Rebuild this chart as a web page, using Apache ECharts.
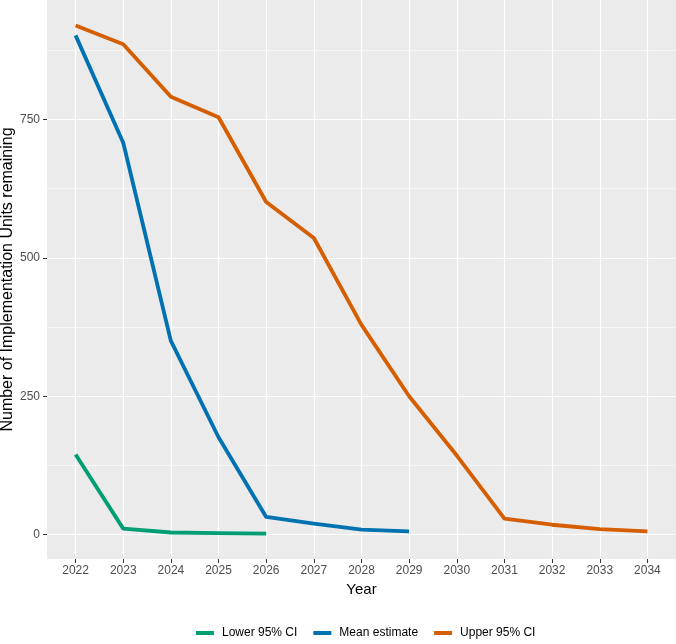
<!DOCTYPE html>
<html>
<head>
<meta charset="utf-8">
<script src="https://cdn.jsdelivr.net/npm/echarts@6/dist/echarts.min.js"></script>
<style>html,body{margin:0;padding:0;background:#fff}#c{width:676px;height:644px}</style>
</head>
<body>
<div id="c"></div>
<script>
const years = [2022,2023,2024,2025,2026,2027,2028,2029,2030,2031,2032,2033,2034];
const lowerCI = [145, 11, 4, 3, 2];
const meanEstimate = [902, 708, 350, 176, 32, 20, 9, 6];
const upperCI = [920, 886, 791, 754, 601, 536, 379, 250, 143, 29, 18, 10, 6];
const yTicks = [0, 250, 500, 750];
const yMinor = [125, 375, 625, 875];
const seriesNames = ['Lower 95% CI', 'Mean estimate', 'Upper 95% CI'];
const colors = ['#009E73', '#0072B2', '#D55E00'];

const pairs = arr => arr.map((v, i) => [years[i], v]);
const font = 'Liberation Sans, Arial, sans-serif';

const chart = echarts.init(document.getElementById('c'), null, {renderer: 'canvas'});
const lineSeries = [lowerCI, meanEstimate, upperCI].map((arr, i) => ({
  name: seriesNames[i],
  type: 'line',
  data: pairs(arr),
  symbol: 'none',
  lineStyle: {color: colors[i], width: 3.8, cap: 'butt', join: 'round'},
  itemStyle: {color: colors[i]},
  z: 5
}));
lineSeries.unshift({
  type: 'line', data: [], silent: true, z: 1,
  markLine: {
    silent: true, symbol: 'none', label: {show: false},
    lineStyle: {color: '#ffffff', width: 0.6, type: 'solid'},
    data: yMinor.map(v => ({yAxis: v}))
  }
});

chart.setOption({
  backgroundColor: '#ffffff',
  animation: false,
  textStyle: {fontFamily: font},
  grid: {left: 47, right: 0, top: 0, bottom: 85, containLabel: false, outerBoundsMode: 'none',
         show: true, backgroundColor: '#EBEBEB', borderWidth: 0},
  xAxis: {
    type: 'value', min: 2021.4, max: 2034.6,
    name: 'Year', nameLocation: 'middle', nameGap: 23,
    nameTextStyle: {color: '#000', fontSize: 15, fontFamily: font},
    axisLine: {show: false, onZero: false},
    axisTick: {show: true, length: 4, lineStyle: {color: '#333', width: 1}, customValues: years},
    axisLabel: {color: '#4D4D4D', fontSize: 12, margin: 6, customValues: years, formatter: v => String(v)},
    splitLine: {show: true, lineStyle: {color: '#ffffff', width: 1.2}}
  },
  yAxis: {
    type: 'value', min: -43.9, max: 965.9,
    name: 'Number of Implementation Units remaining', nameLocation: 'middle', nameGap: 31,
    nameMoveOverlap: false,
    nameTextStyle: {color: '#000', fontSize: 16, fontFamily: font},
    axisLine: {show: false, onZero: false},
    axisTick: {show: true, length: 4, lineStyle: {color: '#333', width: 1}, customValues: yTicks},
    axisLabel: {color: '#4D4D4D', fontSize: 12, margin: 7, customValues: yTicks},
    splitLine: {show: true, lineStyle: {color: '#ffffff', width: 1.2}}
  },
  legend: {
    data: seriesNames, bottom: 0, left: 191,
    itemWidth: 18, itemHeight: 4, itemGap: 16, icon: 'rect',
    textStyle: {color: '#000', fontSize: 12, fontFamily: font, padding: [0, 0, 0, 3]}
  },
  series: lineSeries
});
</script>
</body>
</html>
